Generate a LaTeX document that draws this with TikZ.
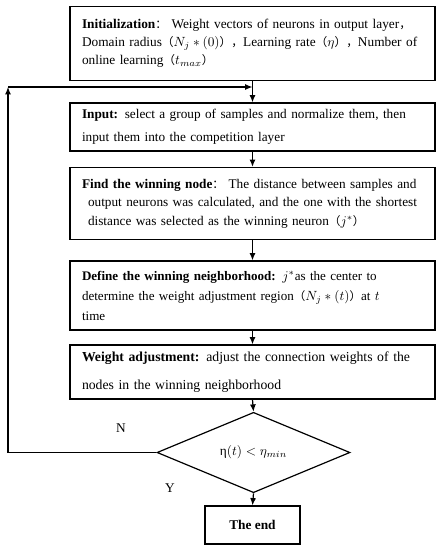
\documentclass[tikz,border=0pt]{standalone}
\usepackage{fontspec}
\setmainfont{Liberation Serif}
\newfontfamily\cjk[Scale=0.88]{Noto Sans CJK SC}
\usetikzlibrary{shapes.geometric,arrows.meta}
\newcommand{\fl}{{\cjk （}}
\newcommand{\fr}{{\cjk ）}}
\newcommand{\fc}{{\cjk ，}}
\newcommand{\fcol}{{\cjk ：}}
\newcommand{\oneline}[1]{\mbox{#1}}
\tikzset{
  px/.style={x=0.75pt,y=-0.75pt},
  stepbox/.style={draw,line width=0.9pt,minimum width=273.75pt,text width=255.75pt,align=left,inner sep=0pt,anchor=center},
  endbox/.style={draw,line width=0.9pt,minimum width=71.25pt,minimum height=28.5pt,inner sep=0pt,font=\fontsize{10}{12}\selectfont\bfseries},
  decide/.style={draw,diamond,line width=0.9pt,minimum width=144.75pt,minimum height=53.25pt,inner sep=0pt,font=\fontsize{10}{12}\selectfont},
  conn/.style={line width=0.9pt,-{Latex[length=5.5pt,width=4.5pt]}},
  lbl/.style={font=\fontsize{10}{12}\selectfont,inner sep=0pt}
}
\begin{document}
\begin{tikzpicture}[px]
\useasboundingbox (0,0) rectangle (441,550);
\node[stepbox,minimum height=55.5pt,font=\fontsize{10}{13.5}\selectfont] (init) at (252.5,43.5)
 {\oneline{\textbf{Initialization}\fcol\ Weight vectors of neurons in output layer\fc}\\
  \oneline{Domain radius\fl$N_j*(0)$\fr\fc Learning rate\fl$\eta$\fr\fc Number of}\\
  \oneline{online learning\fl$t_{max}$\fr}};
\node[stepbox,minimum height=36pt,font=\fontsize{9.95}{17.5}\selectfont] (input) at (252.5,127)
 {\oneline{\textbf{Input:} select a group of samples and normalize them, then}\\
  \oneline{input them into the competition layer}};
\node[stepbox,minimum height=54pt,font=\fontsize{9.95}{14}\selectfont] (find) at (252.5,203.5)
 {\oneline{\textbf{Find the winning node}\fcol\ The distance between samples and}\\
  \oneline{\hspace*{4.5pt}output neurons was calculated, and the one with the shortest}\\
  \oneline{\hspace*{4.5pt}distance was selected as the winning neuron\fl$j^*$\fr}};
\node[stepbox,minimum height=51.75pt,font=\fontsize{9.8}{15}\selectfont] (define) at (252.5,295.5)
 {\oneline{\textbf{Define the winning neighborhood:} $j^*$as the center to}\\
  \oneline{determine the weight adjustment region\fl$N_j*(t)$\fr at\ $t$}\\
  time};
\node[stepbox,minimum height=40.5pt,font=\fontsize{10.3}{21}\selectfont] (adjust) at (252.5,372)
 {\oneline{\textbf{Weight adjustment:} adjust the connection weights of the}\\
  \oneline{nodes in the winning neighborhood}};
\node[decide] (cond) at (253.5,452.5) {η$(t)<\eta_{min}$};
\node[endbox] (end) at (252.5,525) {The end};
\node[lbl] (n) at (121,428) {N};
\node[lbl] (y) at (170,488) {Y};
\coordinate (merge) at (init.south |- 0,87);
\coordinate (corner) at (8,87);
\draw[conn] (init.south) -- (input.north);
\draw[conn] (input.south) -- (find.north);
\draw[conn] (find.south) -- (define.north);
\draw[conn] (define.south) -- (adjust.north);
\draw[conn] (adjust.south) -- (cond.north);
\draw[conn] (cond.south) -- (end.north);
\draw[conn] (cond.west) -| (corner);
\draw[conn] (corner) -- (merge);
\end{tikzpicture}
\end{document}
